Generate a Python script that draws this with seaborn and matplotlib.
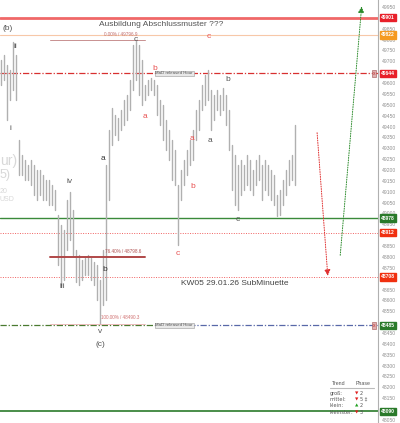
import numpy as np
import pandas as pd
import matplotlib
matplotlib.use("Agg")
import matplotlib.pyplot as plt
import matplotlib.transforms as mtransforms
import seaborn as sns

# price bars (high / low), one per bar
highs = [49706, 49729, 49683, 49660, 49789, 49729, 49338, 49269, 49246, 49223,
         49246, 49223, 49200, 49200, 49177, 49154, 49154, 49131, 49108, 48993,
         48947, 48924, 49062, 49099, 49016, 48832, 48809, 48786, 48795, 48809,
         48795, 48777, 48763, 48694, 48832, 49223, 49384, 49487, 49453, 49440,
         49476, 49522, 49545, 49614, 49775, 49798, 49775, 49706, 49591, 49614,
         49623, 49614, 49591, 49522, 49499, 49430, 49384, 49338, 49292, 49131,
         49200, 49246, 49292, 49338, 49384, 49476, 49522, 49591, 49637, 49660,
         49568, 49545, 49568, 49545, 49577, 49545, 49476, 49315, 49269, 49223,
         49246, 49223, 49269, 49246, 49200, 49246, 49269, 49223, 49246, 49223,
         49200, 49177, 49085, 49108, 49154, 49200, 49246, 49269, 49407]
lows = [49591, 49614, 49430, 49522, 49568, 49522, 49177, 49177, 49154, 49154,
        49131, 49085, 49062, 49085, 49062, 49062, 49039, 49039, 49016, 48763,
        48671, 48694, 48832, 48878, 48809, 48685, 48671, 48694, 48717, 48717,
        48694, 48671, 48602, 48490, 48579, 48602, 49062, 49315, 49361, 49338,
        49384, 49407, 49430, 49476, 49568, 49614, 49545, 49499, 49522, 49545,
        49568, 49545, 49453, 49407, 49338, 49292, 49246, 49154, 49131, 48855,
        49062, 49131, 49177, 49223, 49246, 49338, 49384, 49476, 49499, 49522,
        49384, 49430, 49476, 49453, 49476, 49407, 49292, 49108, 49039, 49016,
        49085, 49108, 49131, 49108, 49085, 49131, 49154, 49062, 49108, 49085,
        49062, 49039, 48988, 48993, 49039, 49085, 49131, 49154, 49131]

# horizontal levels: value, colour, style, width
levels = [49901, 49822, 49644, 48978, 48912, 48708, 48485, 48090]
level_colors = ["#f06868", "#f7c8a8", "#d83030", "#3a8a3a", "#f06060", "#f06060", "#4a7a30", "#2a7a2a"]
level_styles = ["-", "-", (0, (5, 1.5, 1, 1.5)), "-", (0, (1, 1.5)), (0, (1, 1.5)), (0, (5, 1.5, 1, 1.5)), "-"]
level_widths = [2.0, 0.8, 0.9, 1.0, 0.7, 0.7, 0.9, 1.2]
label_colors = ["#e8202a", "#f59a20", "#e8202a", "#2a7a2a", "#f03010", "#f03010", "#2a7a2a", "#2a7a2a"]

# fibonacci retracement
fib_values = [49796.9, 48798.6, 48490.3]
fib_names = ["0.00% / 49796.9", "76.40% / 48798.6", "100.00% / 48490.3"]
fib_colors = ["#c89090", "#b04848", "#e8b0b0"]
fib_widths = [0.7, 1.4, 0.6]

# wave labels: text, bar, price, colour
waves = [("(b)", 2.3, 49853, "#555555"), ("ii", 4.7, 49766, "#555555"),
         ("i", 3.0, 49393, "#555555"), ("iv", 23, 49145, "#555555"),
         ("iii", 20.3, 48662, "#555555"), ("v", 33, 48455, "#555555"),
         ("(c)", 33, 48395, "#555555"), ("a", 34, 49255, "#333333"),
         ("b", 34.7, 48740, "#333333"), ("c", 45, 49800, "#555555"),
         ("a", 48, 49444, "#e85050"), ("b", 51.3, 49669, "#e85050"),
         ("a", 63.7, 49343, "#e85050"), ("b", 64, 49122, "#e85050"),
         ("c", 59, 48814, "#e85050"), ("c", 69.3, 49812, "#e85050"),
         ("b", 75.7, 49614, "#555555"), ("a", 69.7, 49334, "#555555"),
         ("c", 79, 48970, "#555555")]

# axis ticks, leaving out those hidden by the price boxes
ticks = [t for t in range(48050, 49951, 50) if min(abs(t - v) for v in levels) > 16]

rows = []
for i, (h, l) in enumerate(zip(highs, lows)):
    rows.append({"bar": i, "price": h})
    rows.append({"bar": i, "price": l})
df = pd.DataFrame(rows)

sns.set_style("white")
plt.rcParams["font.family"] = ["Liberation Sans", "DejaVu Sans"]

fig = plt.figure(figsize=(4.0, 4.23), dpi=100)
ax = fig.add_axes([0, 0, 378 / 400, 1])

sns.lineplot(data=df, x="bar", y="price", units="bar", estimator=None,
             color="#b0b0b0", lw=1.0, ax=ax, legend=False)

ax.set_xlim(-0.33, 125.67)
ax.set_ylim(48036, 49982)

for v, c, s, w in zip(levels, level_colors, level_styles, level_widths):
    if v == 48485:
        ax.plot([-0.33, 51.3], [v, v], color=c, ls=s, lw=w)
        ax.plot([51.3, 125.67], [v, v], color="#5868a8", ls=s, lw=w)
    else:
        ax.axhline(v, color=c, ls=s, lw=w, zorder=1)

# price labels on the right
trans = mtransforms.blended_transform_factory(ax.transAxes, ax.transData)
for v, c in zip(levels, label_colors):
    ax.text(1.008, v, str(v), transform=trans, fontsize=3.6, color="white",
            ha="left", va="center", fontweight="bold", clip_on=False,
            bbox=dict(boxstyle="square,pad=0.25", fc=c, ec=c))

for v, name, c, w in zip(fib_values, fib_names, fib_colors, fib_widths):
    ax.plot([16.3, 48], [v, v], color=c, lw=w)
ax.text(34.3, 49822, fib_names[0], fontsize=3.3, color="#c07070", va="center")
ax.text(34.7, 48826, fib_names[1], fontsize=3.3, color="#b05050", va="center")
ax.text(33.3, 48522, fib_names[2], fontsize=3.3, color="#d07070", va="center")

for t, x, y, c in waves:
    ax.text(x, y, t, fontsize=6, color=c, ha="center", va="center")

for v in [49644, 48485]:
    ax.text(51.5, v, "MaD released Hour", fontsize=3.2, color="#555555", va="center",
            bbox=dict(boxstyle="square,pad=0.2", fc="#e8e8e8", ec="#999999", lw=0.4))
    ax.text(124.3, v, "x", fontsize=3.5, color="#c03030", va="center", ha="center",
            bbox=dict(boxstyle="square,pad=0.15", fc="#e0b0b0", ec="#a05050", lw=0.4))

ax.text(53.3, 49867, "Ausbildung Abschlussmuster ???", fontsize=6, color="#555555",
        ha="center", va="center")
ax.text(78, 48680, "KW05 29.01.26 SubMinuette", fontsize=6, color="#444444",
        ha="center", va="center")

# watermark remains on the left
ax.text(-0.33, 49240, "ur)", fontsize=10, color="#d8d8d8", ha="left", va="center")
ax.text(-0.33, 49175, "5)", fontsize=9, color="#d8d8d8", ha="left", va="center")
ax.text(-0.33, 49100, "20", fontsize=5, color="#d8d8d8", ha="left", va="center")
ax.text(-0.33, 49065, "USD", fontsize=5, color="#d8d8d8", ha="left", va="center")

# forecast arrows
ax.annotate("", xy=(109, 48700), xytext=(105.3, 49384),
            arrowprops=dict(arrowstyle="-|>", color="#e03030", ls=(0, (1, 1.5)), lw=0.7,
                            mutation_scale=9))
ax.annotate("", xy=(120.3, 49965), xytext=(113, 48795),
            arrowprops=dict(arrowstyle="-|>", color="#2a8a2a", ls=(0, (1, 1.5)), lw=0.7,
                            mutation_scale=9))

ax.yaxis.tick_right()
ax.set_yticks(ticks)
ax.set_yticklabels([str(t) for t in ticks])
ax.tick_params(axis="y", labelsize=3.6, labelcolor="#909090", length=0, pad=3)
ax.set_xticks([])
ax.set_xlabel("")
ax.set_ylabel("")
for side in ["top", "left", "bottom"]:
    ax.spines[side].set_visible(False)
ax.spines["right"].set_color("#b0b0b0")
ax.spines["right"].set_linewidth(0.8)

# trend / phase table
fig.text(332 / 400, 1 - 383 / 423, "Trend", fontsize=3.8, color="#555555", va="center")
fig.text(356 / 400, 1 - 383 / 423, "Phase", fontsize=3.8, color="#555555", va="center")
fig.add_artist(plt.Line2D([330 / 400, 374 / 400], [1 - 388 / 423] * 2, color="#bbbbbb", lw=0.8))
trend_names = ["groß:", "mittel:", "klein:", "kleinster:"]
trend_marks = ["▼", "▼", "▲", "▼"]
trend_cols = ["#e02020", "#e02020", "#20a020", "#e02020"]
trend_phase = ["2", "5 ‡", "2", "3"]
for k, (n, m, c, p) in enumerate(zip(trend_names, trend_marks, trend_cols, trend_phase)):
    yy = 1 - (393 + 6.4 * k) / 423
    fig.text(330 / 400, yy, n, fontsize=3.6, color="#555555", va="center", family=["DejaVu Sans"])
    fig.text(355 / 400, yy, m, fontsize=3.2, color=c, va="center", family=["DejaVu Sans"])
    fig.text(360 / 400, yy, p, fontsize=3.6, color="#555555", va="center", family=["DejaVu Sans"])

fig.savefig("out.png", dpi=100)
